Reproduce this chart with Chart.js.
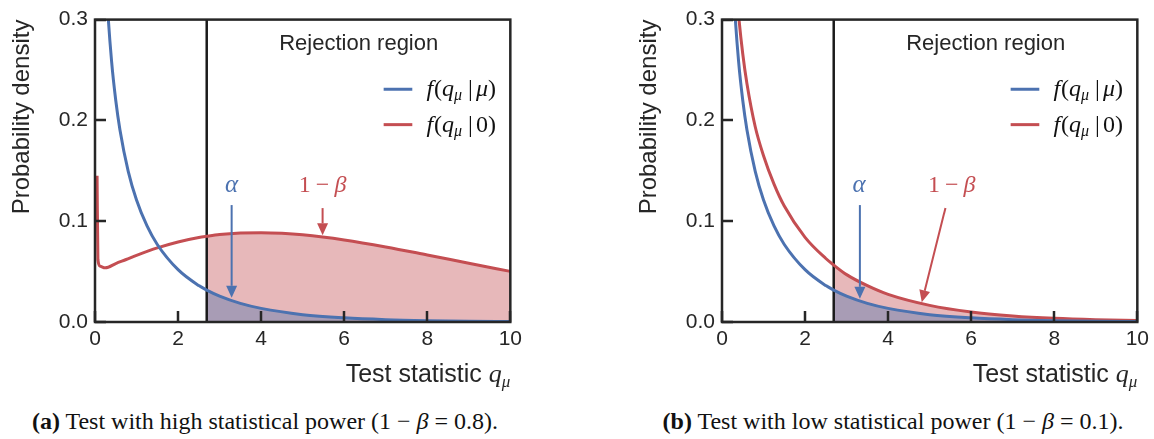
<!DOCTYPE html>
<html>
<head>
<meta charset="utf-8">
<script src="https://cdn.jsdelivr.net/npm/chart.js@4.4.0/dist/chart.umd.min.js"></script>
<style>
  body { margin: 0; background: #fff; width: 1154px; height: 439px; overflow: hidden; position: relative; }
  .panel { position: absolute; top: 0; width: 527px; height: 400px; }
  .cap { position: absolute; top: 407px; width: 560px; text-align: center; font-family: "Liberation Serif", serif;
         font-size: 24px; line-height: 28px; color: #111; white-space: nowrap; }
</style>
</head>
<body>
<div class="panel" style="left:0"><canvas id="chartA"></canvas></div>
<div class="panel" style="left:627px"><canvas id="chartB"></canvas></div>
<div class="cap" style="left:-15px"><b>(a)</b> Test with high statistical power (1 − <i>β</i> = 0.8).</div>
<div class="cap" style="left:613px"><b>(b)</b> Test with low statistical power (1 − <i>β</i> = 0.1).</div>

<script>
// threshold of the rejection region
const qCut = 2.69;

const xTicks = [0, 2, 4, 6, 8, 10];
const yTicks = [0, 0.1, 0.2, 0.3];

// f(q_mu | mu), same in both panels
const qBlue = [0.25, 0.3, 0.4, 0.5, 0.6, 0.8, 1, 1.25, 1.5, 2, 2.5, 2.69, 3, 3.5, 4, 5, 6, 7, 8, 9, 10];
const fBlue = [0.352, 0.3135, 0.2582, 0.2197, 0.1908, 0.1495, 0.121, 0.0955, 0.0769, 0.0519, 0.0361, 0.0317,
               0.0257, 0.0185, 0.0135, 0.0073, 0.0041, 0.0023, 0.0013, 0.0007, 0.0004];

// f(q_mu | 0), panel (a): high power
const qRedA = [0.05, 0.07, 0.12, 0.25, 0.5, 0.75, 1, 1.5, 2, 2.5, 2.69, 3, 3.5, 4, 4.5, 5, 6, 7, 8, 9, 10];
const fRedA = [0.145, 0.062, 0.0555, 0.0537, 0.058, 0.062, 0.0661, 0.0735, 0.0794, 0.0838, 0.085, 0.0867,
               0.0882, 0.0886, 0.088, 0.0865, 0.0814, 0.0745, 0.0665, 0.0583, 0.0502];

// f(q_mu | 0), panel (b): low power
const qRedB = [0.35, 0.4, 0.5, 0.6, 0.8, 1, 1.25, 1.5, 2, 2.5, 2.69, 3, 3.5, 4, 5, 6, 7, 8, 9, 10];
const fRedB = [0.3285, 0.3041, 0.2659, 0.2366, 0.1937, 0.165, 0.137, 0.115, 0.084, 0.063, 0.0565, 0.047,
               0.036, 0.0274, 0.0165, 0.0099, 0.006, 0.0036, 0.0022, 0.0014];

const BLUE = '#4C72B0';
const RED = '#C44E52';
const INK = '#262626';
const SANS = '"Liberation Sans", Arial, sans-serif';
const SERIF = '"Liberation Serif", "DejaVu Serif", serif';

const pts = (qs, fs, from) =>
  qs.map((q, i) => ({ x: q, y: fs[i] })).filter(p => from === undefined || p.x >= from);

function drawRuns(ctx, runs, x, y, align) {
  let w = 0;
  runs.forEach(r => { ctx.font = r.font; r.w = ctx.measureText(r.t).width + (r.gap || 0); w += r.w; });
  let cx = align === 'right' ? x - w : align === 'center' ? x - w / 2 : x;
  ctx.textAlign = 'left';
  runs.forEach(r => {
    ctx.font = r.font;
    ctx.fillText(r.t, cx + (r.gap || 0), y + (r.dy || 0));
    cx += r.w;
  });
}

function arrow(ctx, x1, y1, x2, y2, color) {
  const ang = Math.atan2(y2 - y1, x2 - x1), hl = 12, hw = 5.5;
  const bx = x2 - hl * Math.cos(ang), by = y2 - hl * Math.sin(ang);
  ctx.strokeStyle = color;
  ctx.fillStyle = color;
  ctx.lineWidth = 2;
  ctx.beginPath(); ctx.moveTo(x1, y1); ctx.lineTo(bx, by); ctx.stroke();
  ctx.beginPath();
  ctx.moveTo(x2, y2);
  ctx.lineTo(bx - hw * Math.sin(ang), by + hw * Math.cos(ang));
  ctx.lineTo(bx + hw * Math.sin(ang), by - hw * Math.cos(ang));
  ctx.closePath();
  ctx.fill();
}

const mathLabel = (last) => [
  { t: 'f', font: `italic 24px ${SERIF}` },
  { t: '(', font: `24px ${SERIF}`, gap: 1 },
  { t: 'q', font: `italic 24px ${SERIF}` },
  { t: 'μ', font: `italic 16px ${SERIF}`, dy: 4 },
  { t: '|', font: `24px ${SERIF}`, gap: 6 },
  last === '0' ? { t: '0', font: `24px ${SERIF}`, gap: 3 } : { t: 'μ', font: `italic 24px ${SERIF}`, gap: 3 },
  { t: ')', font: `24px ${SERIF}` }
];

// draws the frame, inner ticks, legend, x title and annotations
const decorPlugin = {
  id: 'decor',
  afterDraw(chart, args, opts) {
    const { ctx, chartArea: a, scales: { x, y } } = chart;
    const px = v => x.getPixelForValue(v), py = v => y.getPixelForValue(v);
    ctx.save();
    ctx.setLineDash([]);
    ctx.globalAlpha = 1;

    // inward tick marks
    ctx.fillStyle = INK;
    xTicks.forEach(v => ctx.fillRect(Math.round(px(v)) - 1.25, a.bottom - 11, 2.5, 11));
    yTicks.forEach(v => ctx.fillRect(a.left, Math.round(py(v)) - 1.25, 11, 2.5));

    ctx.strokeStyle = INK;
    ctx.lineWidth = 2.5;
    ctx.strokeRect(a.left, a.top, a.right - a.left, a.bottom - a.top);

    ctx.fillStyle = INK;
    ctx.textBaseline = 'middle';
    ctx.textAlign = 'center';
    ctx.font = `22px ${SANS}`;
    ctx.fillText('Rejection region', px(6.35), py(0.276));

    // legend
    [[BLUE, 0.2309, 'mu'], [RED, 0.1958, '0']].forEach(([c, yy, last]) => {
      ctx.strokeStyle = c;
      ctx.lineWidth = 3;
      ctx.beginPath(); ctx.moveTo(px(6.95), py(yy)); ctx.lineTo(px(7.64), py(yy)); ctx.stroke();
      ctx.fillStyle = '#111';
      ctx.textBaseline = 'alphabetic';
      drawRuns(ctx, mathLabel(last), px(7.98), py(yy) + 7, 'left');
    });

    // x axis title
    ctx.fillStyle = INK;
    ctx.textBaseline = 'alphabetic';
    drawRuns(ctx, [
      { t: 'Test statistic ', font: `25px ${SANS}` },
      { t: 'q', font: `italic 26px ${SERIF}` },
      { t: 'μ', font: `italic 17px ${SERIF}`, dy: 5 }
    ], a.right, 382, 'right');

    // annotations
    const an = opts.ann;
    ctx.textBaseline = 'middle';
    ctx.fillStyle = BLUE;
    drawRuns(ctx, [{ t: 'α', font: `italic 25px ${SERIF}` }], px(an.alpha.x), py(an.alpha.y), 'center');
    arrow(ctx, px(an.alpha.from[0]), py(an.alpha.from[1]), px(an.alpha.to[0]), py(an.alpha.to[1]), BLUE);
    ctx.fillStyle = RED;
    drawRuns(ctx, [
      { t: '1', font: `24px ${SERIF}` },
      { t: '−', font: `24px ${SERIF}`, gap: 5 },
      { t: 'β', font: `italic 24px ${SERIF}`, gap: 5 }
    ], px(an.beta.x), py(an.beta.y), 'center');
    arrow(ctx, px(an.beta.from[0]), py(an.beta.from[1]), px(an.beta.to[0]), py(an.beta.to[1]), RED);

    ctx.restore();
  }
};

function makeChart(id, qRed, fRed, ann) {
  const ctx = document.getElementById(id).getContext('2d');
  new Chart(ctx, {
    type: 'line',
    data: {
      datasets: [
        { data: pts(qBlue, fBlue), borderColor: BLUE, borderWidth: 3, pointRadius: 0,
          cubicInterpolationMode: 'monotone', fill: false },
        { data: pts(qRed, fRed), borderColor: RED, borderWidth: 3, pointRadius: 0,
          cubicInterpolationMode: 'monotone', fill: false },
        { data: [{ x: qCut, y: 0 }, { x: qCut, y: 0.3 }], borderColor: '#1a1a1a', borderWidth: 2.5,
          pointRadius: 0, fill: false },
        { data: pts(qBlue, fBlue, qCut), borderWidth: 0, borderColor: 'rgba(0,0,0,0)', pointRadius: 0,
          cubicInterpolationMode: 'monotone', fill: 'origin', backgroundColor: 'rgba(76,114,176,0.4)' },
        { data: pts(qRed, fRed, qCut), borderWidth: 0, borderColor: 'rgba(0,0,0,0)', pointRadius: 0,
          cubicInterpolationMode: 'monotone', fill: 'origin', backgroundColor: 'rgba(196,78,82,0.4)' }
      ]
    },
    options: {
      responsive: true,
      maintainAspectRatio: false,
      animation: false,
      layout: { padding: { top: 14, right: 16, left: 0, bottom: 0 } },
      plugins: { legend: { display: false }, tooltip: { enabled: false }, decor: { ann } },
      scales: {
        x: {
          type: 'linear', min: 0, max: 10,
          afterBuildTicks: s => { s.ticks = xTicks.map(v => ({ value: v })); },
          ticks: { color: INK, font: { family: SANS, size: 21 }, padding: 5, maxRotation: 0 },
          grid: { display: false, drawTicks: false },
          border: { display: false },
          afterFit: s => { s.height = 78; }
        },
        y: {
          min: 0, max: 0.3,
          afterBuildTicks: s => { s.ticks = yTicks.map(v => ({ value: v })); },
          ticks: { color: INK, font: { family: SANS, size: 21 }, padding: 7, callback: v => v.toFixed(1) },
          grid: { display: false, drawTicks: false },
          border: { display: false },
          title: { display: true, text: 'Probability density', align: 'end', color: INK,
                   font: { family: SANS, size: 24 }, padding: { top: 8, bottom: 0 } },
          afterFit: s => { s.width = 95; }
        }
      }
    },
    plugins: [decorPlugin]
  });
}

makeChart('chartA', qRedA, fRedA, {
  alpha: { x: 3.29, y: 0.135, from: [3.29, 0.116], to: [3.29, 0.024] },
  beta: { x: 5.48, y: 0.135, from: [5.48, 0.113], to: [5.48, 0.086] }
});
makeChart('chartB', qRedB, fRedB, {
  alpha: { x: 3.3, y: 0.135, from: [3.32, 0.116], to: [3.32, 0.023] },
  beta: { x: 5.53, y: 0.135, from: [5.38, 0.113], to: [4.81, 0.0195] }
});
</script>
</body>
</html>
